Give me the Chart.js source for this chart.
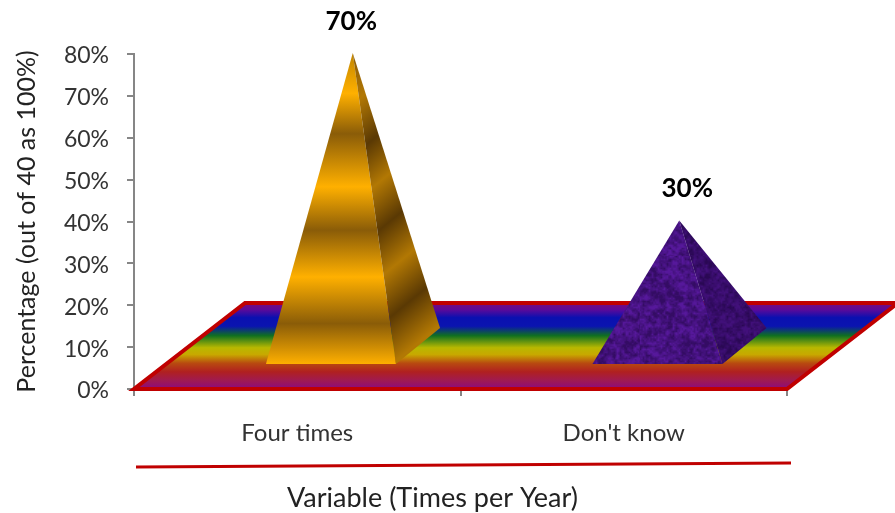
<!DOCTYPE html>
<html>
<head>
<meta charset="utf-8">
<style>html,body{margin:0;padding:0;background:#fff}canvas{display:block}</style>
<script src="https://cdn.jsdelivr.net/npm/chart.js@4"></script>
</head>
<body>
<canvas id="c" width="895" height="513"></canvas>
<script>
const categories = ["Four times", "Don't know"];
const percentValues = [70, 30];
const yTickStep = 10;
const yMax = 80;
const yTitle = "Percentage (out of 40 as 100%)";
const xTitle = "Variable (Times per Year)";

const FONT = "Lato, Carlito, sans-serif";
const RED = "#c00000";
// Depth of the floor in pixels (3D projection vector)
const DEPTH = {x: 111, y: -86};

function noiseTexture(){
  const s = 128, cv = document.createElement('canvas');
  cv.width = cv.height = s;
  const g = cv.getContext('2d');
  const h = (x,y)=>{const v=Math.sin(x*12.9898+y*78.233)*43758.5453;return v-Math.floor(v);};
  const vn = (x,y,p)=>{
    const X=Math.floor(x/p),Y=Math.floor(y/p),fx=x/p-X,fy=y/p-Y;
    const a=h(X,Y),b=h(X+1,Y),c=h(X,Y+1),d=h(X+1,Y+1);
    return (a*(1-fx)+b*fx)*(1-fy)+(c*(1-fx)+d*fx)*fy;
  };
  for(let y=0;y<s;y++)for(let x=0;x<s;x++){
    const n=.3*vn(x,y,7)+.45*vn(x,y,3)+.25*vn(x,y,1.5);
    const a=Math.min(1,Math.max(0,(n-.28)*2.2));
    g.fillStyle=`rgb(${Math.round(52+34*a)},${Math.round(12+12*a)},${Math.round(100+55*a)})`;
    g.fillRect(x,y,1,1);
  }
  return cv;
}

function poly(ctx,pts){
  ctx.beginPath();
  pts.forEach((p,i)=>i?ctx.lineTo(p[0],p[1]):ctx.moveTo(p[0],p[1]));
  ctx.closePath();
}

const scene = {
  id:'scene',
  afterDatasetsDraw(chart){
    const {ctx,scales:{x,y}} = chart;
    const meta = chart.getDatasetMeta(0);
    const y0 = y.getPixelForValue(0), L = x.left, R = x.right;
    ctx.save();
    // floor
    const floor = [[L,y0],[R,y0],[R+DEPTH.x,y0+DEPTH.y],[L+DEPTH.x,y0+DEPTH.y]];
    const fg = ctx.createLinearGradient(0,y0+DEPTH.y,0,y0);
    [[0,'#7a0a7a'],[.08,'#5a0a9a'],[.17,'#0a10b0'],[.27,'#0a14b0'],[.38,'#107020'],[.52,'#b8b800'],[.6,'#c8a800'],[.7,'#b84a10'],[.8,'#b02020'],[.9,'#a01a50'],[1,'#8a0a80']]
      .forEach(s=>fg.addColorStop(s[0],s[1]));
    poly(ctx,floor); ctx.fillStyle=fg; ctx.fill();
    ctx.lineWidth=4; ctx.strokeStyle=RED; ctx.lineJoin='miter'; ctx.stroke();

    // pyramids
    const hw = 65;
    const frontT = .29, backT = .71;
    meta.data.forEach((bar,i)=>{
      const cx = bar.x + DEPTH.x*.5;
      const baseY = y0 + DEPTH.y*.5;
      const apex = [cx, baseY - (y0 - bar.y)];
      const fy = y0 + DEPTH.y*frontT, by = y0 + DEPTH.y*backT;
      const dxF = DEPTH.x*(frontT-.5)+1.5, dxB = DEPTH.x*(backT-.5)-1;
      const fl=[cx+dxF-hw,fy], fr=[cx+dxF+hw,fy], br=[cx+dxB+hw,by];
      ctx.lineWidth=1;
      if(i===0){
        const top=apex[1];
        const g=ctx.createLinearGradient(0,top,0,fy);
        [[0,'#c08400'],[.13,'#ffb000'],[.26,'#8a5c08'],[.43,'#ffb000'],[.57,'#8a5c08'],[.72,'#ffb000'],[.87,'#8a5c08'],[1,'#ffb000']]
          .forEach(s=>g.addColorStop(s[0],s[1]));
        poly(ctx,[apex,fl,fr]); ctx.fillStyle=g; ctx.fill();
        // side face: bands run along the depth direction
        const nx=.63, ny=.77;
        const p0=nx*apex[0]+ny*apex[1], p1=nx*br[0]+ny*br[1], len=p1-p0;
        const g2=ctx.createLinearGradient(apex[0],apex[1],apex[0]+nx*len,apex[1]+ny*len);
        [[0,'#8a5a06'],[.15,'#b27804'],[.30,'#5a3904'],[.44,'#b27804'],[.58,'#5a3904'],[.72,'#b27804'],[.86,'#5a3904'],[1,'#b27804']]
          .forEach(s=>g2.addColorStop(s[0],s[1]));
        poly(ctx,[apex,fr,br]); ctx.fillStyle=g2; ctx.fill();
      } else {
        const pat=ctx.createPattern(noiseTexture(),'repeat');
        poly(ctx,[apex,fl,fr]); ctx.fillStyle=pat; ctx.fill();
        poly(ctx,[apex,fr,br]); ctx.fillStyle=pat; ctx.fill();
        ctx.fillStyle='rgba(20,0,50,.3)'; ctx.fill();
      }
      // value label
      ctx.font="bold 26px "+FONT; ctx.fillStyle='#000'; ctx.textAlign='center'; ctx.textBaseline='middle';
      const nudge = i===0 ? -1.5 : 8;
      ctx.fillText(percentValues[i]+'%', apex[0]+nudge, apex[1]-(i===0?31:32));
    });

    // red underline between the tick labels and axis title
    ctx.beginPath(); ctx.moveTo(L+2,467); ctx.lineTo(R+4,463);
    ctx.lineWidth=3; ctx.strokeStyle=RED; ctx.stroke();

    // axis title (sits left of the axis centre in the reference)
    ctx.font="27px "+FONT; ctx.fillStyle='#222'; ctx.textAlign='center'; ctx.textBaseline='middle';
    ctx.fillText(xTitle,432.5,498);
    ctx.restore();
  }
};

new Chart(document.getElementById('c'),{
  type:'bar',
  data:{labels:categories,datasets:[{data:percentValues,backgroundColor:'transparent',borderWidth:0}]},
  plugins:[scene],
  options:{
    responsive:false,animation:false,
    layout:{padding:{left:0,top:54,right:108,bottom:0}},
    plugins:{legend:{display:false},tooltip:{enabled:false}},
    scales:{
      x:{
        afterFit(s){s.height=513-389;},
        grid:{offset:true,drawOnChartArea:false,color:'#868686',lineWidth:2,tickLength:7,tickColor:'#868686'},
        border:{color:'#868686',width:2},
        ticks:{color:'#333',font:{family:FONT,size:24},padding:23,maxRotation:0},
        title:{display:false}
      },
      y:{
        min:0,max:yMax,
        afterFit(s){s.width=134;},
        grid:{drawOnChartArea:false,color:'#868686',lineWidth:2,tickLength:7,tickColor:'#868686'},
        border:{color:'#868686',width:2},
        ticks:{stepSize:yTickStep,color:'#333',font:{family:FONT,size:23},padding:18,labelOffset:2,callback:v=>v+'%'},
        title:{display:true,text:yTitle,color:'#222',font:{family:FONT,size:25},padding:{top:12,bottom:0}}
      }
    }
  }
});
</script>
</body>
</html>
